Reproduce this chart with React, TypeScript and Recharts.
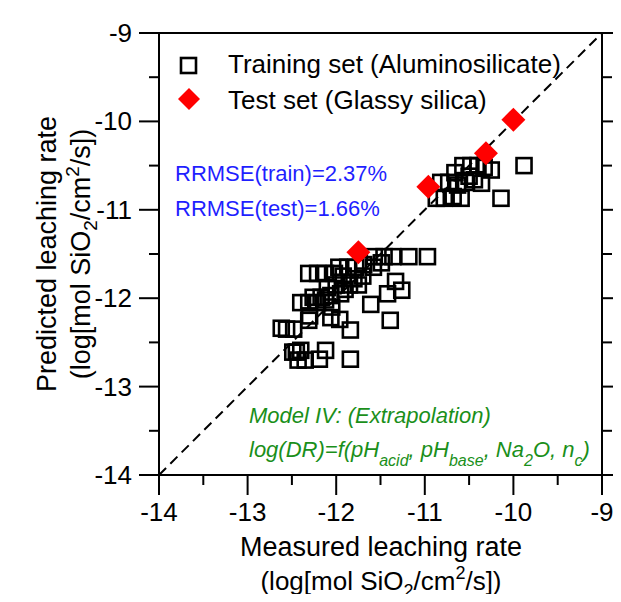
import React from "react";
import { ScatterChart, Scatter, XAxis, YAxis, ReferenceLine, Customized } from "recharts";

// training set (aluminosilicate): measured vs predicted, log units
const trainX = [
  -9.88, -10.14, -10.57, -10.48, -10.4, -10.33, -10.25, -10.82, -10.73, -10.63,
  -10.54, -10.44, -10.36, -10.87, -10.78, -10.68, -10.59, -10.5, -10.66,
  -11.57, -11.46, -11.36, -11.18, -10.97, -11.97, -11.87, -11.78, -11.69, -11.58,
  -11.49, -11.33, -11.26, -11.42, -11.61, -11.39, -11.96, -11.84, -11.84, -12.12,
  -12.19, -12.4, -12.43, -12.49, -12.56, -12.48, -12.62, -12.31, -12.06,
  -12.31, -12.21, -12.12, -12.02, -11.92, -12.26, -12.17, -12.06, -11.95, -12.4,
  -12.31, -12.21, -12.12, -12.45, -12.35, -11.85, -11.8, -11.9, -12.0, -12.1,
  -11.7, -12.05, -12.3, -11.75,
];
const trainY = [
  -10.5, -10.87, -10.5, -10.5, -10.5, -10.52, -10.55, -10.69, -10.69, -10.72,
  -10.69, -10.66, -10.7, -10.87, -10.87, -10.85, -10.87, -10.62, -10.58,
  -11.53, -11.53, -11.53, -11.53, -11.53, -11.65, -11.65, -11.65, -11.62, -11.65,
  -11.6, -11.81, -11.91, -11.95, -12.07, -12.25, -12.24, -12.36, -12.69, -12.59,
  -12.69, -12.59, -12.7, -12.61, -12.35, -12.35, -12.34, -12.25, -12.22,
  -11.72, -11.72, -11.72, -11.72, -11.75, -11.99, -11.99, -11.97, -11.95, -12.05,
  -12.05, -12.05, -12.02, -12.61, -12.7, -11.85, -11.78, -11.9, -11.85, -11.88,
  -11.75, -12.1, -12.2, -11.85,
];

// test set (glassy silica)
const testX = [-11.75, -10.96, -10.31, -10.0];
const testY = [-11.48, -10.74, -10.36, -9.98];

const axisTicks = [-14, -13.5, -13, -12.5, -12, -11.5, -11, -10.5, -10, -9.5, -9];
const domain: [number, number] = [-14, -9];

const trainData = trainX.map((x, i) => ({ x, y: trainY[i] }));
const testData = testX.map((x, i) => ({ x, y: testY[i] }));

const FONT = "'Liberation Sans', Arial, Helvetica, sans-serif";

const isMajor = (v: number) => Number.isInteger(v);

const BottomTick = (p: any) => {
  const len = isMajor(p.payload.value) ? 20 : 10;
  return (
    <g>
      <line x1={p.x} x2={p.x} y1={p.y} y2={p.y + len} stroke="#000" strokeWidth={2} />
      {isMajor(p.payload.value) && (
        <text x={p.x} y={p.y + 46} textAnchor="middle" fontSize={26} fontFamily={FONT} fill="#000">
          {p.payload.value}
        </text>
      )}
    </g>
  );
};

const TopTick = (p: any) => {
  const len = isMajor(p.payload.value) ? 20 : 10;
  return <line x1={p.x} x2={p.x} y1={p.y} y2={p.y - len} stroke="#000" strokeWidth={2} />;
};

const LeftTick = (p: any) => {
  const len = isMajor(p.payload.value) ? 20 : 10;
  return (
    <g>
      <line x1={p.x} x2={p.x - len} y1={p.y} y2={p.y} stroke="#000" strokeWidth={2} />
      {isMajor(p.payload.value) && (
        <text x={p.x - 27} y={p.y + 9} textAnchor="end" fontSize={26} fontFamily={FONT} fill="#000">
          {p.payload.value}
        </text>
      )}
    </g>
  );
};

const RightTick = (p: any) => {
  const len = isMajor(p.payload.value) ? 20 : 10;
  return <line x1={p.x} x2={p.x + len} y1={p.y} y2={p.y} stroke="#000" strokeWidth={2} />;
};

const Square = (p: any) => (
  <rect x={p.cx - 7.5} y={p.cy - 7.5} width={15} height={15} fill="none" stroke="#000" strokeWidth={2.6} />
);

const Diamond = (p: any) => (
  <polygon
    points={`${p.cx},${p.cy - 12} ${p.cx + 12},${p.cy} ${p.cx},${p.cy + 12} ${p.cx - 12},${p.cy}`}
    fill="#ff0000"
  />
);

const Annotations = () => (
  <g fontFamily={FONT}>
    {/* legend */}
    <rect x={173} y={50} width={15} height={15} fill="none" stroke="#000" strokeWidth={2.6} />
    <text x={220} y={65} fontSize={26} fill="#000">Training set (Aluminosilicate)</text>
    <polygon points="181,80 192,91 181,102 170,91" fill="#ff0000" />
    <text x={220} y={101} fontSize={26} fill="#000">Test set (Glassy silica)</text>

    <text x={167} y={173} fontSize={22} fill="#1f1fff">RRMSE(train)=2.37%</text>
    <text x={167} y={208} fontSize={22} fill="#1f1fff">RRMSE(test)=1.66%</text>

    <text x={241} y={415} fontSize={22} fontStyle="italic" fill="#1a8f1a">Model IV: (Extrapolation)</text>
    <text x={241} y={449} fontSize={22} fontStyle="italic" fill="#1a8f1a">
      log(DR)=f(pH
      <tspan fontSize={16} dy={9}>acid</tspan>
      <tspan dy={-9}>, pH</tspan>
      <tspan fontSize={16} dy={9}>base</tspan>
      <tspan dy={-9}>, Na</tspan>
      <tspan fontSize={16} dy={9}>2</tspan>
      <tspan dy={-9}>O, n</tspan>
      <tspan fontSize={16} dy={9}>c</tspan>
      <tspan dy={-9}>)</tspan>
    </text>

    {/* axis titles */}
    <text x={373} y={548} textAnchor="middle" fontSize={27} fill="#000">Measured leaching rate</text>
    <text x={373} y={582} textAnchor="middle" fontSize={26} fill="#000">
      (log[mol SiO<tspan fontSize={18} dy={7}>2</tspan>
      <tspan dy={-7}>/cm</tspan>
      <tspan fontSize={18} dy={-11}>2</tspan>
      <tspan dy={11}>/s])</tspan>
    </text>
    <text transform="rotate(-90)" x={-246} y={48} textAnchor="middle" fontSize={27} fill="#000">
      Predicted leaching rate
    </text>
    <text transform="rotate(-90)" x={-246} y={82} textAnchor="middle" fontSize={27} fill="#000">
      (log[mol SiO<tspan fontSize={19} dy={7}>2</tspan>
      <tspan dy={-7}>/cm</tspan>
      <tspan fontSize={19} dy={-11}>2</tspan>
      <tspan dy={11}>/s])</tspan>
    </text>
  </g>
);

export default function App() {
  return (
    <div style={{ marginBottom: -8 }}>
      <ScatterChart width={613} height={594} margin={{ top: 0, right: 0, bottom: 0, left: 0 }}>
        <XAxis
          type="number"
          dataKey="x"
          domain={domain}
          ticks={axisTicks}
          interval={0}
          height={127}
          tickSize={0}
          tickMargin={0}
          tickLine={false}
          tick={<BottomTick />}
          axisLine={{ stroke: "#000", strokeWidth: 2 }}
          allowDataOverflow
        />
        <XAxis
          xAxisId="top"
          orientation="top"
          type="number"
          domain={domain}
          ticks={axisTicks}
          interval={0}
          height={25}
          tickSize={0}
          tickMargin={0}
          tickLine={false}
          tick={<TopTick />}
          axisLine={{ stroke: "#000", strokeWidth: 2 }}
          allowDataOverflow
        />
        <YAxis
          type="number"
          dataKey="y"
          domain={domain}
          ticks={axisTicks}
          interval={0}
          width={151}
          tickSize={0}
          tickMargin={0}
          tickLine={false}
          tick={<LeftTick />}
          axisLine={{ stroke: "#000", strokeWidth: 2 }}
          allowDataOverflow
        />
        <YAxis
          yAxisId="right"
          orientation="right"
          type="number"
          domain={domain}
          ticks={axisTicks}
          interval={0}
          width={19}
          tickSize={0}
          tickMargin={0}
          tickLine={false}
          tick={<RightTick />}
          axisLine={{ stroke: "#000", strokeWidth: 2 }}
          allowDataOverflow
        />
        <Scatter data={trainData} shape={<Square />} isAnimationActive={false} />
        <ReferenceLine
          segment={[{ x: -14, y: -14 }, { x: -9, y: -9 }]}
          stroke="#000"
          strokeWidth={2}
          strokeDasharray="10 6"
        />
        <Scatter data={testData} shape={<Diamond />} isAnimationActive={false} />
        <Customized component={<Annotations />} />
      </ScatterChart>
    </div>
  );
}
